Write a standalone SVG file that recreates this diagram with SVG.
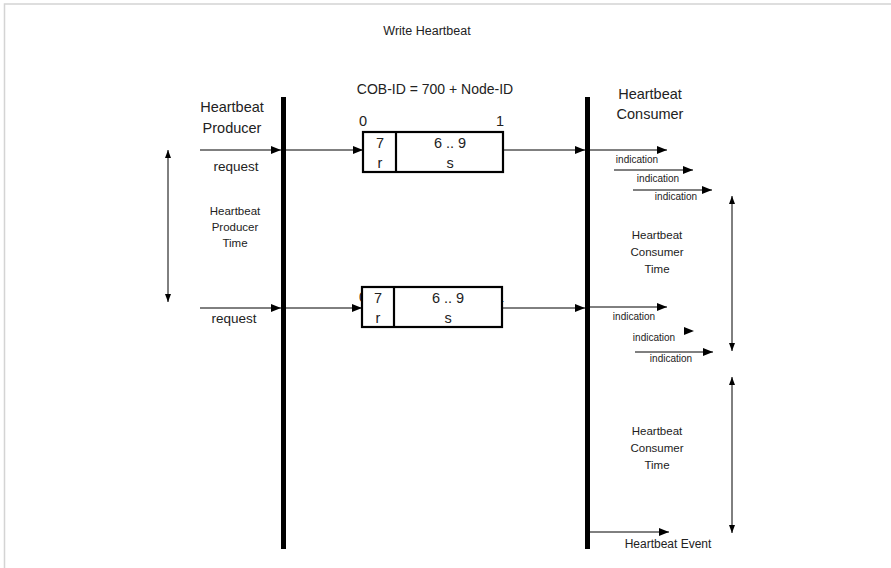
<svg xmlns="http://www.w3.org/2000/svg" width="891" height="568" viewBox="0 0 891 568">
<defs>
<marker id="ah" markerWidth="10" markerHeight="8" refX="10" refY="4" orient="auto" markerUnits="userSpaceOnUse">
<path d="M0,0 L10,4 L0,8 Z" fill="#000"/>
</marker>
<marker id="sa" markerWidth="8" markerHeight="6" refX="8" refY="3" orient="auto-start-reverse" markerUnits="userSpaceOnUse">
<path d="M0,0 L8,3 L0,6 Z" fill="#000"/>
</marker>
<style>
text{font-family:"Liberation Sans",Arial,sans-serif;fill:#222}
.t14{font-size:14.5px}
.t13{font-size:13.5px}
.t12{font-size:12.5px}
.t11{font-size:11.5px}
.t10{font-size:10px}
.bar{fill:#000}
.box{fill:#fff;stroke:#000;stroke-width:2.2}
.ln{stroke:#000;stroke-width:1;fill:none}
</style>
</defs>
<rect x="0" y="0" width="891" height="568" fill="#fff"/>
<path d="M4.5,568 V4 H891" fill="none" stroke="#d4d4d4" stroke-width="1.5"/>

<text class="t12" x="427" y="35" text-anchor="middle">Write Heartbeat</text>

<g id="producer">
<rect class="bar" x="281" y="97" width="5" height="452"/>
<text class="t14" x="232" y="112" text-anchor="middle">Heartbeat</text>
<text class="t14" x="232" y="133" text-anchor="middle">Producer</text>
</g>

<g id="consumer">
<rect class="bar" x="585" y="97" width="5" height="452"/>
<text class="t14" x="650" y="99" text-anchor="middle">Heartbeat</text>
<text class="t14" x="650" y="119" text-anchor="middle">Consumer</text>
</g>

<text x="435" y="94" text-anchor="middle" style="font-size:14px">COB-ID = 700 + Node-ID</text>

<g id="frame1">
<text class="t14" x="363" y="126" text-anchor="middle">0</text>
<text class="t14" x="500" y="126" text-anchor="middle">1</text>
<rect class="box" x="363" y="132" width="140" height="40"/>
<line x1="396" y1="132" x2="396" y2="172" stroke="#000" stroke-width="2.2"/>
<text class="t14" x="380" y="148" text-anchor="middle">7</text>
<text class="t14" x="380" y="168" text-anchor="middle">r</text>
<text class="t14" x="450" y="148" text-anchor="middle">6 .. 9</text>
<text class="t14" x="450" y="168" text-anchor="middle">s</text>
</g>

<g id="frame2">
<text class="t14" x="363" y="302" text-anchor="middle">0</text>
<text class="t14" x="500" y="302" text-anchor="middle">1</text>
<rect class="box" x="362" y="287" width="140" height="40"/>
<line x1="394" y1="287" x2="394" y2="327" stroke="#000" stroke-width="2.2"/>
<text class="t14" x="378" y="303" text-anchor="middle">7</text>
<text class="t14" x="378" y="323" text-anchor="middle">r</text>
<text class="t14" x="448" y="303" text-anchor="middle">6 .. 9</text>
<text class="t14" x="448" y="323" text-anchor="middle">s</text>
</g>

<g id="connectors">
<line class="ln" x1="200" y1="150" x2="281" y2="150" marker-end="url(#ah)"/>
<line class="ln" x1="286" y1="150" x2="363" y2="150" marker-end="url(#ah)"/>
<line class="ln" x1="503" y1="150" x2="585" y2="150" marker-end="url(#ah)"/>
<line class="ln" x1="590" y1="150" x2="667" y2="150" marker-end="url(#ah)"/>
<line class="ln" x1="614" y1="170" x2="693" y2="170" marker-end="url(#ah)"/>
<line class="ln" x1="633" y1="190" x2="712" y2="190" marker-end="url(#ah)"/>

<line class="ln" x1="200" y1="308" x2="281" y2="308" marker-end="url(#ah)"/>
<line class="ln" x1="286" y1="308" x2="362" y2="308" marker-end="url(#ah)"/>
<line class="ln" x1="502" y1="308" x2="585" y2="308" marker-end="url(#ah)"/>
<line class="ln" x1="590" y1="307" x2="667" y2="307" marker-end="url(#ah)"/>
<path d="M684,327 L694,331 L684,335 Z" fill="#000"/>
<line class="ln" x1="635" y1="352" x2="713" y2="352" marker-end="url(#ah)"/>

<line class="ln" x1="590" y1="532" x2="669" y2="532" marker-end="url(#ah)"/>

<line class="ln" x1="168" y1="150" x2="168" y2="302" marker-start="url(#sa)" marker-end="url(#sa)"/>
<line class="ln" x1="732" y1="196" x2="732" y2="351" marker-start="url(#sa)" marker-end="url(#sa)"/>
<line class="ln" x1="732" y1="377" x2="732" y2="533" marker-start="url(#sa)" marker-end="url(#sa)"/>
</g>

<g id="labels">
<text class="t13" x="236" y="171" text-anchor="middle">request</text>
<text class="t13" x="234" y="323" text-anchor="middle">request</text>
<text class="t11" x="235" y="215" text-anchor="middle">Heartbeat</text>
<text class="t11" x="235" y="231" text-anchor="middle">Producer</text>
<text class="t11" x="235" y="247" text-anchor="middle">Time</text>

<text class="t10" x="637" y="163" text-anchor="middle">indication</text>
<text class="t10" x="658" y="182" text-anchor="middle">indication</text>
<text class="t10" x="676" y="200" text-anchor="middle">indication</text>

<text class="t10" x="634" y="320" text-anchor="middle">indication</text>
<text class="t10" x="654" y="341" text-anchor="middle">indication</text>
<text class="t10" x="671" y="362" text-anchor="middle">indication</text>

<text class="t11" x="657" y="239" text-anchor="middle">Heartbeat</text>
<text class="t11" x="657" y="256" text-anchor="middle">Consumer</text>
<text class="t11" x="657" y="273" text-anchor="middle">Time</text>

<text class="t11" x="657" y="435" text-anchor="middle">Heartbeat</text>
<text class="t11" x="657" y="452" text-anchor="middle">Consumer</text>
<text class="t11" x="657" y="469" text-anchor="middle">Time</text>

<text x="668" y="548" text-anchor="middle" style="font-size:12px">Heartbeat Event</text>
</g>
</svg>
